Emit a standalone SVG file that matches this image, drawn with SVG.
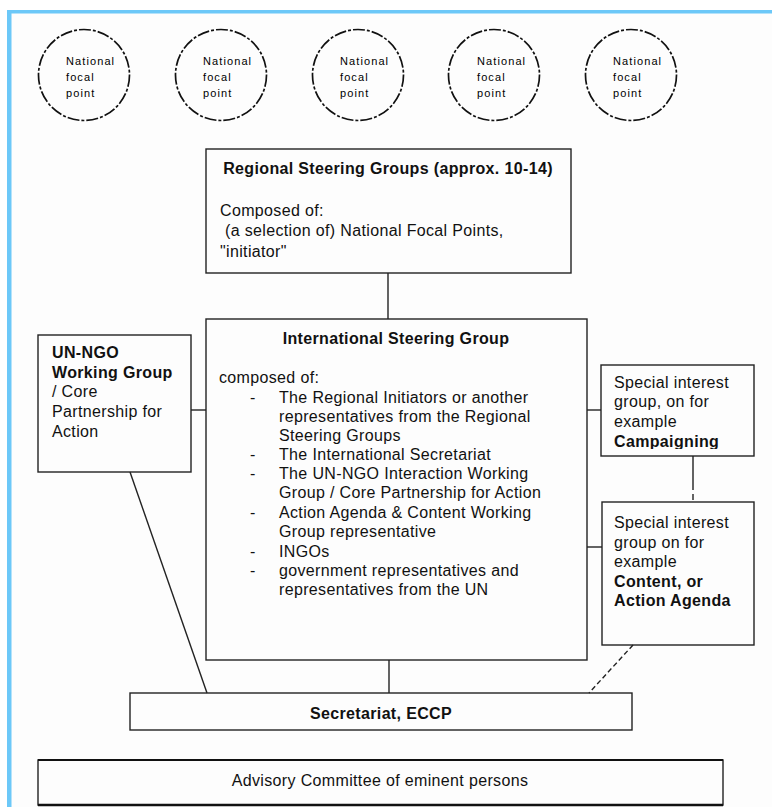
<svg xmlns="http://www.w3.org/2000/svg" width="772" height="807" viewBox="0 0 772 807">
  <defs>
    <style>
      text { font-family: "Liberation Sans", Arial, sans-serif; fill: #111; }
      .t { font-size: 16px; letter-spacing: 0.35px; }
      .b { font-weight: bold; }
      .np { font-size: 11px; letter-spacing: 1.1px; fill: #000; }
      .box { fill: none; stroke: #222; stroke-width: 1.4; }
      .np-ring { fill: none; stroke: #111; stroke-width: 1.7; stroke-dasharray: 12 2 3 2; }
      .link { stroke: #222; stroke-width: 1.4; fill: none; }
    </style>
    <clipPath id="clip-campaign">
      <rect x="601" y="365" width="153" height="84"/>
    </clipPath>
  </defs>

  <!-- page frame -->
  <rect x="0" y="0" width="772" height="807" fill="#ffffff"/>
  <rect x="7" y="10" width="765" height="797" fill="#fdfdfd"/>
  <rect x="7" y="10" width="765" height="3.5" fill="#6cc8f8"/>
  <rect x="7" y="10" width="4.5" height="797" fill="#6cc8f8"/>

  <!-- national focal points -->
  <g id="focal-point-1">
    <circle class="np-ring" cx="84" cy="75" r="45.5"/>
    <text class="np" x="66" y="65">National</text>
    <text class="np" x="66" y="81">focal</text>
    <text class="np" x="66" y="97">point</text>
  </g>
  <g id="focal-point-2">
    <circle class="np-ring" cx="221" cy="75" r="45.5"/>
    <text class="np" x="203" y="65">National</text>
    <text class="np" x="203" y="81">focal</text>
    <text class="np" x="203" y="97">point</text>
  </g>
  <g id="focal-point-3">
    <circle class="np-ring" cx="358" cy="75" r="45.5"/>
    <text class="np" x="340" y="65">National</text>
    <text class="np" x="340" y="81">focal</text>
    <text class="np" x="340" y="97">point</text>
  </g>
  <g id="focal-point-4">
    <circle class="np-ring" cx="494" cy="75" r="45.5"/>
    <text class="np" x="477" y="65">National</text>
    <text class="np" x="477" y="81">focal</text>
    <text class="np" x="477" y="97">point</text>
  </g>
  <g id="focal-point-5">
    <circle class="np-ring" cx="631" cy="75" r="45.5"/>
    <text class="np" x="613" y="65">National</text>
    <text class="np" x="613" y="81">focal</text>
    <text class="np" x="613" y="97">point</text>
  </g>

  <!-- connectors -->
  <g id="connectors">
    <line class="link" x1="388" y1="273" x2="388" y2="319"/>
    <line class="link" x1="191" y1="410" x2="206" y2="410"/>
    <line class="link" x1="587" y1="410" x2="601" y2="410"/>
    <line class="link" x1="587" y1="547" x2="602" y2="547" stroke-width="2.2"/>
    <line class="link" x1="693" y1="456" x2="693" y2="502" stroke-dasharray="34 4 6 2"/>
    <line class="link" x1="130" y1="472" x2="207" y2="693" stroke="#000" stroke-width="2"/>
    <line class="link" x1="389" y1="660" x2="389" y2="693" stroke-width="3"/>
    <line class="link" x1="633" y1="645" x2="589" y2="693" stroke="#000" stroke-width="2.6" stroke-dasharray="5 3"/>
  </g>

  <!-- regional steering groups -->
  <g id="regional-steering">
    <rect class="box" x="206" y="149" width="365" height="124"/>
    <text class="t b" x="388" y="174" text-anchor="middle">Regional Steering Groups (approx. 10-14)</text>
    <text class="t" x="220" y="216">Composed of:</text>
    <text class="t" x="225" y="236">(a selection of) National Focal Points,</text>
    <text class="t" x="220" y="257">"initiator"</text>
  </g>

  <!-- UN-NGO working group -->
  <g id="un-ngo-group">
    <rect class="box" x="38" y="335" width="153" height="137"/>
    <text class="t b" x="52" y="358">UN-NGO</text>
    <text class="t b" x="52" y="378">Working Group</text>
    <text class="t" x="52" y="397">/ Core</text>
    <text class="t" x="52" y="417">Partnership for</text>
    <text class="t" x="52" y="437">Action</text>
  </g>

  <!-- international steering group -->
  <g id="international-steering">
    <rect class="box" x="206" y="319" width="381" height="341"/>
    <text class="t b" x="396" y="344" text-anchor="middle">International Steering Group</text>
    <text class="t" x="219" y="383">composed of:</text>
    <text class="t" x="250" y="403">-</text>
    <text class="t" x="279" y="403">The Regional Initiators or another</text>
    <text class="t" x="279" y="422">representatives from the Regional</text>
    <text class="t" x="279" y="441">Steering Groups</text>
    <text class="t" x="250" y="460">-</text>
    <text class="t" x="279" y="460">The International Secretariat</text>
    <text class="t" x="250" y="479">-</text>
    <text class="t" x="279" y="479">The UN-NGO Interaction Working</text>
    <text class="t" x="279" y="498">Group / Core Partnership for Action</text>
    <text class="t" x="250" y="518">-</text>
    <text class="t" x="279" y="518">Action Agenda &amp; Content Working</text>
    <text class="t" x="279" y="537">Group representative</text>
    <text class="t" x="250" y="557">-</text>
    <text class="t" x="279" y="557">INGOs</text>
    <text class="t" x="250" y="576">-</text>
    <text class="t" x="279" y="576">government representatives and</text>
    <text class="t" x="279" y="595">representatives from the UN</text>
  </g>

  <!-- special interest: campaigning -->
  <g id="special-campaigning">
    <rect class="box" x="601" y="365" width="153" height="91"/>
    <text class="t" x="614" y="388">Special interest</text>
    <text class="t" x="614" y="407">group, on for</text>
    <text class="t" x="614" y="427">example</text>
    <text class="t b" x="614" y="447" clip-path="url(#clip-campaign)">Campaigning</text>
  </g>

  <!-- special interest: content / action agenda -->
  <g id="special-content">
    <rect class="box" x="602" y="502" width="152" height="143"/>
    <text class="t" x="614" y="528">Special interest</text>
    <text class="t" x="614" y="548">group on for</text>
    <text class="t" x="614" y="567">example</text>
    <text class="t b" x="614" y="587">Content, or</text>
    <text class="t b" x="614" y="606">Action Agenda</text>
  </g>

  <!-- secretariat -->
  <g id="secretariat">
    <rect class="box" x="130" y="693" width="502" height="37"/>
    <text class="t b" x="381" y="719" text-anchor="middle">Secretariat, ECCP</text>
  </g>

  <!-- advisory committee -->
  <g id="advisory-committee">
    <rect class="box" x="38" y="760" width="685" height="45"/>
    <line x1="38" y1="760" x2="723" y2="760" stroke="#111" stroke-width="2"/>
    <line x1="38" y1="805" x2="723" y2="805" stroke="#111" stroke-width="2.4"/>
    <text class="t" x="380" y="786" text-anchor="middle" letter-spacing="0">Advisory Committee of eminent persons</text>
  </g>
</svg>
